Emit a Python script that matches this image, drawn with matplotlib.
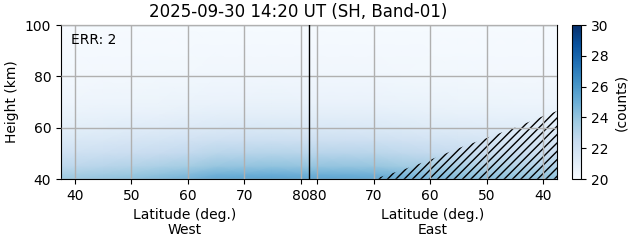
#!/usr/bin/env python
"""Latitude-height plot of counts, West and East halves on one axis."""
import numpy as np
import matplotlib
matplotlib.use("Agg")
import matplotlib.pyplot as plt

# latitude nodes (deg.) used for both halves, 80+ side meets in the middle
lat_nodes = [37.5, 40, 45, 50, 55, 60, 65, 70, 75, 80, 81.5]
# counts at 40 km for each latitude node
bottom_west = [23.8, 23.8, 24.0, 24.2, 24.5, 24.8, 25.3, 25.4, 25.5, 25.4, 25.3]
bottom_east = [24.2, 24.2, 24.2, 24.3, 24.5, 24.7, 25.0, 25.3, 25.4, 25.4, 25.3]
# relative vertical profile (fraction of the 40 km excess above 20 counts)
height_nodes = [40, 42, 45, 50, 55, 60, 65, 70, 80, 90, 100]
profile = [1.0, 0.9, 0.74, 0.55, 0.4, 0.27, 0.19, 0.13, 0.07, 0.04, 0.02]

# hatched (invalid) region on the East side
hatch_lat = [70, 65, 60, 55, 50, 45, 40, 37.5]
hatch_top = [40, 43.5, 47.5, 52, 56, 60, 64.5, 66.5]

tick_labels = [40, 50, 60, 70, 80]
title = "2025-09-30 14:20 UT (SH, Band-01)"
err_count = 2

MID = 81.5  # join of the two halves


def east_to_u(lat):
    return 2 * MID - np.asarray(lat, dtype=float)


def main():
    lat = np.array(lat_nodes)
    prof = np.array(profile)
    west = 20 + np.outer(prof, np.array(bottom_west) - 20)
    east = 20 + np.outer(prof, np.array(bottom_east) - 20)

    u = np.concatenate([lat, east_to_u(lat[::-1])[1:]])
    z = np.concatenate([west, east[:, ::-1][:, 1:]], axis=1)

    fig = plt.figure(figsize=(6.31, 2.43), dpi=100)
    ax = fig.add_axes([0.0967, 0.263, 0.786, 0.634])
    cax = fig.add_axes([0.907, 0.263, 0.0143, 0.634])

    mesh = ax.pcolormesh(u, height_nodes, z, cmap="Blues", vmin=20, vmax=30,
                         shading="gouraud", zorder=0)

    ax.fill_between(east_to_u(hatch_lat), 40, hatch_top, hatch="////",
                    facecolor="none", edgecolor="k", linewidth=0, zorder=1)

    ax.axvline(MID, color="k", lw=1.0, zorder=3)

    ticks = list(tick_labels) + list(east_to_u(tick_labels[::-1]))
    ax.set_xticks(ticks)
    ax.set_xticklabels([str(t) for t in tick_labels] + [str(t) for t in tick_labels[::-1]])
    ax.set_yticks([40, 60, 80, 100])
    ax.set_xlim(lat_nodes[0], 2 * MID - lat_nodes[0])
    ax.set_ylim(40, 100)
    ax.grid(True, color="#b0b0b0", lw=1.0, zorder=2)
    ax.set_axisbelow(False)
    ax.tick_params(labelsize=10)
    ax.set_ylabel("Height (km)", fontsize=10)
    ax.set_title(title, fontsize=12, x=0.479)

    ax.text(0.02, 0.95, f"ERR: {err_count}", transform=ax.transAxes,
            ha="left", va="top", fontsize=10)

    ax.text(0.25, -0.185, "Latitude (deg.)\nWest", transform=ax.transAxes,
            ha="center", va="top", fontsize=10, linespacing=1.1)
    ax.text(0.75, -0.185, "Latitude (deg.)\nEast", transform=ax.transAxes,
            ha="center", va="top", fontsize=10, linespacing=1.1)

    cb = fig.colorbar(mesh, cax=cax)
    cb.set_ticks([20, 22, 24, 26, 28, 30])
    cb.ax.tick_params(labelsize=10)
    cb.set_label("(counts)", fontsize=10)

    fig.savefig("out.png", dpi=100)
    plt.close(fig)


if __name__ == "__main__":
    main()
